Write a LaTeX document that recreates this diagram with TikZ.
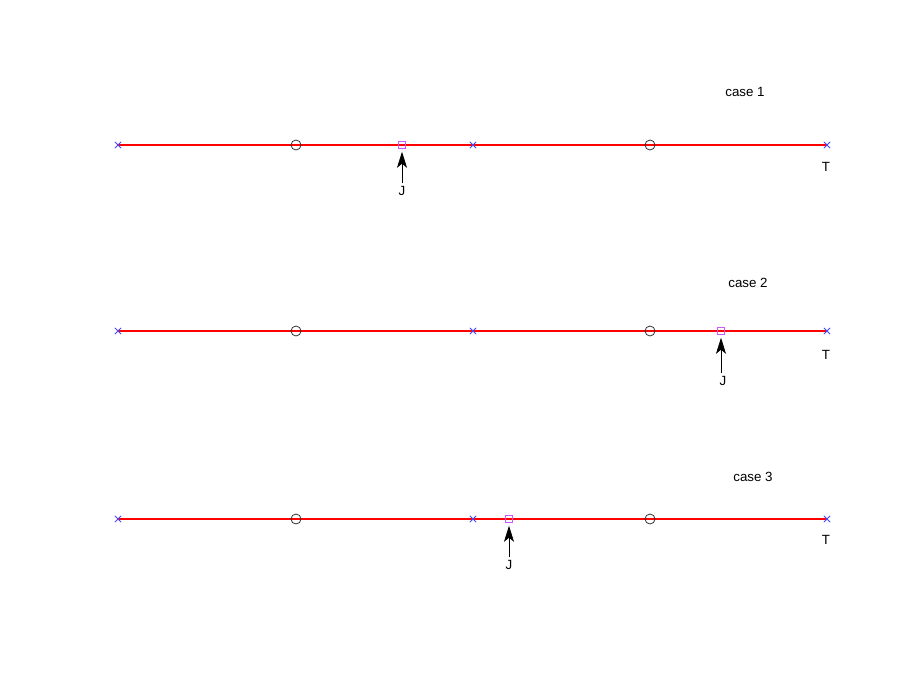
\documentclass[tikz,border=0pt]{standalone}
\usepackage{fontspec}
\setmainfont{Liberation Sans}
\usetikzlibrary{arrows.meta,shapes.misc}
\definecolor{sqcol}{RGB}{200,90,255}
\definecolor{xcol}{RGB}{70,70,255}
\begin{document}
\begin{tikzpicture}[x=0.75pt,y=-0.75pt,
  axisline/.style={red,line width=1.4pt},
  xmark/.style={draw=xcol,line width=0.6pt,cross out,minimum size=4.8pt,inner sep=0pt,outer sep=0pt},
  omark/.style={draw=black!80,line width=0.6pt,circle,minimum size=7.5pt,inner sep=0pt},
  smark/.style={draw=sqcol,line width=0.6pt,rectangle,minimum size=5.5pt,inner sep=0pt,fill=none},
  lbl/.style={font=\fontsize{10}{12}\selectfont,inner sep=1pt},
  jarrow/.style={-{Stealth[length=12pt,width=7.5pt,inset=3pt]},line width=0.6pt,black}]
\useasboundingbox (0,0) rectangle (913,689);
\foreach \c/\y/\j in {1/145/402, 2/331/721, 3/519/509}{
  \draw[axisline] (118,\y) -- (827,\y);
  \node[xmark] (xa\c) at (118,\y) {};
  \node[xmark] (xb\c) at (473,\y) {};
  \node[xmark] (xc\c) at (827,\y) {};
  \node[omark] (oa\c) at (296,\y) {};
  \node[omark] (ob\c) at (650,\y) {};
  \node[smark] (s\c) at (\j,\y) {};
}
\node[lbl] (case1) at (745,92) {case 1};
\node[lbl] (case2) at (748,283) {case 2};
\node[lbl] (case3) at (753,477) {case 3};
\node[lbl] (T1) at (826,167) {T};
\node[lbl] (T2) at (826,355) {T};
\node[lbl] (T3) at (826,540) {T};
\node[lbl] (J1) at (402,191) {J};
\node[lbl] (J2) at (723,381) {J};
\node[lbl] (J3) at (509,565) {J};
\draw[jarrow] ([yshift=1pt]s1.south |- J1.north) -- ([yshift=-2pt]s1.south);
\draw[jarrow] ([yshift=1pt]s2.south |- J2.north) -- ([yshift=-2pt]s2.south);
\draw[jarrow] ([yshift=1pt]s3.south |- J3.north) -- ([yshift=-2pt]s3.south);
\end{tikzpicture}
\end{document}
